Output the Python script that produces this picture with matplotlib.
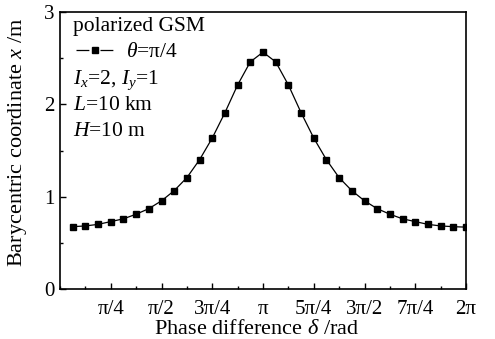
import numpy as np
import matplotlib
matplotlib.use("Agg")
from matplotlib import pyplot as plt
from matplotlib.lines import Line2D
from matplotlib.ticker import MultipleLocator

plt.rcParams['font.family'] = ['Liberation Serif', 'DejaVu Serif']
plt.rcParams['mathtext.fontset'] = 'custom'
plt.rcParams['mathtext.rm'] = 'Liberation Serif'
plt.rcParams['mathtext.it'] = 'Liberation Serif:italic'

# phase difference in units of pi/16 (1..32) and barycentric coordinate x (m)
step_k = list(range(1, 33))
bary_x = [0.675, 0.683, 0.70, 0.73, 0.76, 0.81, 0.87, 0.955,
          1.065, 1.206, 1.40, 1.635, 1.91, 2.21, 2.46, 2.565,
          2.46, 2.21, 1.91, 1.635, 1.40, 1.206, 1.065, 0.955,
          0.87, 0.81, 0.76, 0.73, 0.70, 0.683, 0.675, 0.67]
tick_labels = ['π/4', 'π/2', '3π/4', 'π', '5π/4', '3π/2', '7π/4', '2π']

delta = np.array(step_k) * np.pi / 16

fig = plt.figure(figsize=(4.95, 3.39), dpi=100)
ax = fig.add_axes([60 / 495, 50 / 339, 406 / 495, 277 / 339])

ax.plot(delta, bary_x, color='black', lw=0.9, marker='s', ms=4.6,
        mfc='black', mec='black')

ax.set_xlim(0, 2 * np.pi)
ax.set_ylim(0, 3)
ax.set_xticks(np.arange(1, 9) * np.pi / 4)
ax.set_xticklabels(tick_labels)
ax.xaxis.set_minor_locator(MultipleLocator(np.pi / 8))
ax.set_yticks([0, 1, 2, 3])
ax.yaxis.set_minor_locator(MultipleLocator(0.5))
ax.tick_params(which='both', direction='in', top=False, right=False,
               labelsize=15, width=1)
ax.tick_params(which='major', length=4.5)
ax.tick_params(which='minor', length=2.5)
ax.tick_params(axis='x', pad=8)
ax.tick_params(axis='y', pad=4)
for s in ax.spines.values():
    s.set_linewidth(1.2)

ax.set_xlabel('Phase difference $\\delta$ /rad', fontsize=16)
ax.set_ylabel('Barycentric coordinate $x$ /m', fontsize=16)
ax.xaxis.set_label_coords(0.485, -0.112)
ax.yaxis.set_label_coords(-0.076, 0.53)

# annotation block
ax.text(0.032, 0.946, 'polarized GSM', transform=ax.transAxes,
        fontsize=15.5, va='center', ha='left')
handle = Line2D([], [], color='black', lw=0.9, marker='s', ms=4.6,
                linestyle=(0, (10.3, 8.9)))
ax.legend([handle], ['$\\theta$=π/4'], loc='center left',
          bbox_to_anchor=(0.03, 0.854), frameon=False, fontsize=15.5,
          handlelength=1.72, handletextpad=0.56, borderaxespad=0,
          borderpad=0.2)
ax.text(0.032, 0.755, '$I_x$=2, $I_y$=1', transform=ax.transAxes,
        fontsize=15.5, va='center', ha='left')
ax.text(0.032, 0.664, '$L$=10 km', transform=ax.transAxes,
        fontsize=15.5, va='center', ha='left')
ax.text(0.032, 0.568, '$H$=10 m', transform=ax.transAxes,
        fontsize=15.5, va='center', ha='left')

fig.savefig('out.png', dpi=100)
